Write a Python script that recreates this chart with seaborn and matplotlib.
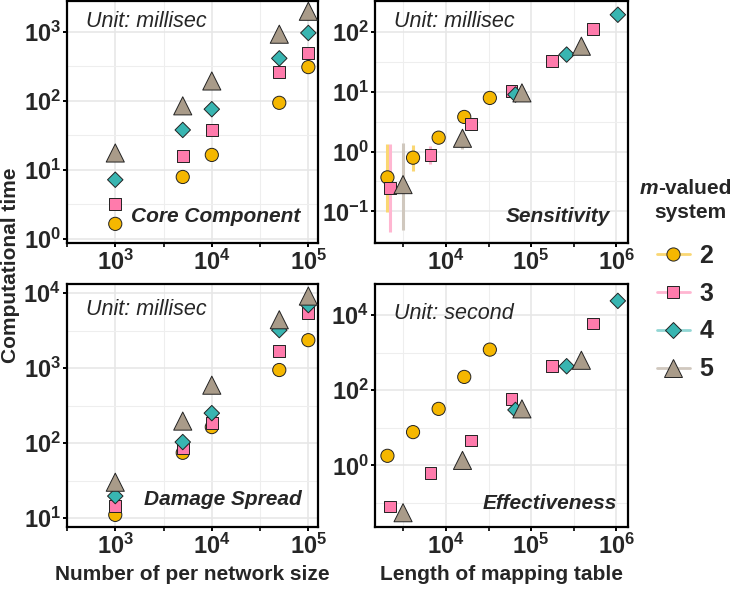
import matplotlib
matplotlib.use("Agg")
import matplotlib.pyplot as plt
import matplotlib.colors as mcolors
from matplotlib.lines import Line2D
from matplotlib.ticker import NullFormatter
import pandas as pd
import seaborn as sns

# --- DATA ---
m_levels = [2, 3, 4, 5]

# left column: network size on x
size_x = [1e3, 5e3, 1e4, 5e4, 1e5]
core_m2 = [1.65, 7.9, 16.5, 94, 310]
core_m3 = [3.2, 16, 38, 263, 500]
core_m4 = [7.2, 38, 76, 415, 970]
core_m5 = [17.6, 85, 195, 930, 2000]

damage_m2 = [11, 74, 163, 940, 2350]
damage_m3 = [14.5, 85, 185, 1700, 5400]
damage_m4 = [19.6, 103, 250, 3200, 6900]
damage_m5 = [30, 196, 590, 4400, 9100]

# right column: mapping table length on x
table_x_m2 = [2048, 4096, 8192, 16384, 32768]
table_x_m3 = [2187, 6561, 19683, 59049, 177147, 531441]
table_x_m4 = [65536, 262144, 1048576]
table_x_m5 = [3125, 15625, 78125, 390625]

sens_m2 = [0.37, 0.79, 1.71, 3.8, 7.9]
sens_m3 = [0.245, 0.88, 2.86, 10.3, 33, 112]
sens_m4 = [9.0, 42, 195]
sens_m5 = [0.28, 1.67, 9.6, 58]

# error bar range for sensitivity
sens_lo_m2 = [0.099, 0.47, 1.6, 3.6, 7.5]
sens_hi_m2 = [1.32, 1.29, 1.8, 4.0, 8.3]
sens_lo_m3 = [0.045, 0.62, 2.7, 9.8, 31, 107]
sens_hi_m3 = [1.36, 1.24, 3.0, 10.8, 35, 117]
sens_lo_m4 = [8.6, 40, 188]
sens_hi_m4 = [9.4, 44, 202]
sens_lo_m5 = [0.049, 1.09, 9.2, 56]
sens_hi_m5 = [1.41, 2.07, 10.0, 60]

eff_m2 = [1.8, 7.7, 32, 227, 1210]
eff_m3 = [0.081, 0.64, 4.6, 60, 437, 6000]
eff_m4 = [30, 437, 24000]
eff_m5 = [0.055, 1.36, 32, 630]

# --- STYLE ---
colors = {2: "#F5B700", 3: "#FF7BAC", 4: "#38B5B1", 5: "#A99B89"}
markers = {2: "o", 3: "s", 4: "D", 5: "^"}
sizes = {2: 90, 3: 72, 4: 62, 5: 170}

sns.set_style("white")
plt.rcParams["font.family"] = ["Liberation Sans", "DejaVu Sans"]
plt.rcParams["mathtext.fontset"] = "custom"
plt.rcParams["mathtext.rm"] = "Liberation Sans:bold"
plt.rcParams["mathtext.bf"] = "Liberation Sans:bold"
plt.rcParams["mathtext.it"] = "Liberation Sans:italic:bold"


def lighten(c, f=0.5):
    r, g, b = mcolors.to_rgb(c)
    return (r + (1 - r) * f, g + (1 - g) * f, b + (1 - b) * f)


def make_df(xs, ys):
    rows = []
    for m, x, y in zip(m_levels, xs, ys):
        for xi, yi in zip(x, y):
            rows.append({"x": xi, "y": yi, "m": m})
    return pd.DataFrame(rows)


def setup(ax, xlim, ylim, xmaj, ymaj, yminor):
    ax.set_xscale("log")
    ax.set_yscale("log")
    ax.set_xlim(10 ** xlim[0], 10 ** xlim[1])
    ax.set_ylim(10 ** ylim[0], 10 ** ylim[1])
    ax.set_xticks([10 ** e for e in xmaj])
    ax.set_xticklabels([r"$\mathbf{10^{%d}}$" % e for e in xmaj])
    ax.set_xticks([10 ** (e + 0.5) for e in xmaj[:-1]] + [10 ** (xmaj[0] - 0.5)], minor=True)
    ax.set_yticks([10 ** e for e in ymaj])
    ax.set_yticklabels([r"$\mathbf{10^{%d}}$" % e for e in ymaj])
    ax.set_yticks([10 ** e for e in yminor], minor=True)
    ax.xaxis.set_minor_formatter(NullFormatter())
    ax.yaxis.set_minor_formatter(NullFormatter())
    ax.tick_params(axis="both", which="major", direction="out", length=3, width=1.4,
                   labelsize=17, pad=1.5, color="black", bottom=True, left=True)
    ax.tick_params(axis="x", which="minor", direction="out", length=3, width=1.4,
                   bottom=True, labelbottom=False)
    ax.tick_params(axis="y", which="minor", length=0, left=False)
    ax.grid(True, which="major", color="#E6E6E6", lw=1.1)
    ax.grid(True, which="minor", color="#EEEEEE", lw=0.8)
    ax.set_axisbelow(True)
    for s in ax.spines.values():
        s.set_color("black")
        s.set_linewidth(1.6)
    ax.set_xlabel("")
    ax.set_ylabel("")


def draw(ax, df):
    sns.scatterplot(data=df, x="x", y="y", hue="m", style="m", size="m",
                    palette=colors, markers=markers, sizes=sizes,
                    edgecolor="#222222", linewidth=0.7, legend=False, ax=ax, zorder=3)


W, H = 738, 589
fig = plt.figure(figsize=(W / 100, H / 100), dpi=100)


def pax(x0, y0, x1, y1):
    return fig.add_axes([x0 / W, 1 - y1 / H, (x1 - x0) / W, (y1 - y0) / H])


ax_core = pax(67, 1, 318, 243)
ax_sens = pax(375, 1, 628, 243)
ax_dmg = pax(67, 284, 318, 527)
ax_eff = pax(375, 284, 628, 527)

# core component
draw(ax_core, make_df([size_x] * 4, [core_m2, core_m3, core_m4, core_m5]))
setup(ax_core, (2.9, 5.1), (-0.06, 3.45), [3, 4, 5], [0, 1, 2, 3],
      [0.5, 1.5, 2.5])

# damage spread
draw(ax_dmg, make_df([size_x] * 4, [damage_m2, damage_m3, damage_m4, damage_m5]))
setup(ax_dmg, (2.9, 5.1), (0.88, 4.12), [3, 4, 5], [1, 2, 3, 4],
      [1.5, 2.5, 3.5])

# sensitivity with error bars
table_xs = [table_x_m2, table_x_m3, table_x_m4, table_x_m5]
los = [sens_lo_m2, sens_lo_m3, sens_lo_m4, sens_lo_m5]
his = [sens_hi_m2, sens_hi_m3, sens_hi_m4, sens_hi_m5]
for m, x, lo, hi in zip(m_levels, table_xs, los, his):
    ax_sens.vlines(x, lo, hi, color=lighten(colors[m], 0.45), lw=2.2, zorder=2)
draw(ax_sens, make_df(table_xs, [sens_m2, sens_m3, sens_m4, sens_m5]))
setup(ax_sens, (3.165, 6.14), (-1.53, 2.52), [4, 5, 6], [-1, 0, 1, 2],
      [-1.5, -0.5, 0.5, 1.5])

# effectiveness
draw(ax_eff, make_df(table_xs, [eff_m2, eff_m3, eff_m4, eff_m5]))
setup(ax_eff, (3.165, 6.14), (-1.64, 4.83), [4, 5, 6], [0, 2, 4],
      [-1, 1, 3])

# panel annotations
for ax, unit, name, uy, ny, nx in [
    (ax_core, "Unit: millisec", "Core Component", 0.915, 0.11, 0.93),
    (ax_sens, "Unit: millisec", "Sensitivity", 0.915, 0.11, 0.93),
    (ax_dmg, "Unit: millisec", "Damage Spread", 0.895, 0.115, 0.935),
    (ax_eff, "Unit: second", "Effectiveness", 0.88, 0.095, 0.955),
]:
    ax.text(0.075, uy, unit, transform=ax.transAxes, fontsize=15.5,
            style="italic", ha="left", va="center")
    ax.text(nx, ny, name, transform=ax.transAxes, fontsize=15,
            style="italic", weight="bold", ha="right", va="center")

# axis labels
fig.text(11 / W, 1 - 265 / H, "Computational time", rotation=90, fontsize=15,
         weight="bold", ha="center", va="center")
fig.text(192 / W, 1 - 575 / H, "Number of per network size", fontsize=15,
         weight="bold", ha="center", va="center")
fig.text(501 / W, 1 - 575 / H, "Length of mapping table", fontsize=15,
         weight="bold", ha="center", va="center")

# legend
fig.text(658 / W, 1 - 188 / H, "m", fontsize=15, weight="bold", style="italic",
         ha="right", va="center")
fig.text(658 / W, 1 - 188 / H, "-valued", fontsize=15, weight="bold",
         ha="left", va="center")
fig.text(690 / W, 1 - 213 / H, "system", fontsize=15, weight="bold",
         ha="center", va="center")

handles = [
    Line2D([0], [0], marker=markers[m], markersize=sizes[m] ** 0.5,
           markerfacecolor=colors[m], markeredgecolor="#222222", markeredgewidth=0.7,
           color=lighten(colors[m], 0.45), lw=2)
    for m in m_levels
]
fig.legend(handles, [str(m) for m in m_levels], loc="upper left",
           bbox_to_anchor=(647 / W, 1 - 234 / H), frameon=False,
           prop={"size": 18, "weight": "bold"}, handlelength=1.3,
           handletextpad=0.4, labelspacing=0.55, borderaxespad=0)

fig.savefig("out.png", dpi=100)
